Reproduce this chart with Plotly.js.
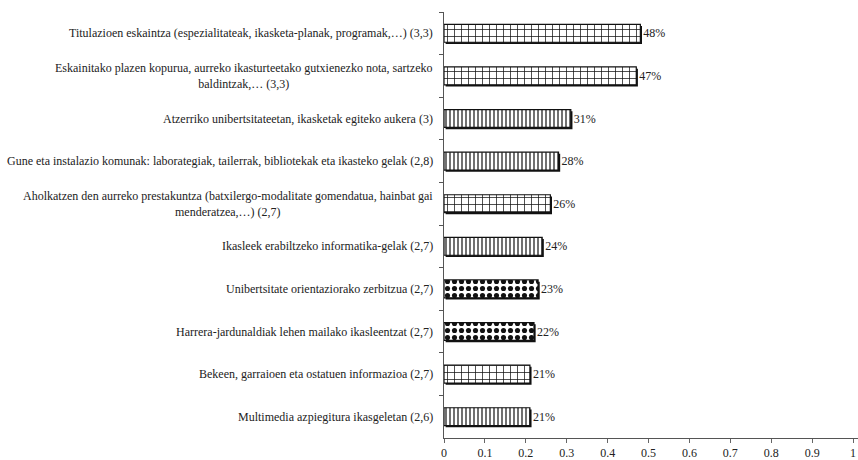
<!DOCTYPE html>
<html><head><meta charset="utf-8">
<script src="https://cdn.plot.ly/plotly-3.0.1.min.js"></script>
<style>body{margin:0;background:#fff}#c{width:858px;height:460px}</style>
</head><body><div id="c"></div>
<script>
const categories = [
  "Titulazioen eskaintza (espezialitateak, ikasketa-planak, programak,…) (3,3)",
  "Eskainitako plazen kopurua, aurreko ikasturteetako gutxienezko nota, sartzeko<br>baldintzak,… (3,3)",
  "Atzerriko unibertsitateetan, ikasketak egiteko aukera (3)",
  "Gune eta instalazio komunak: laborategiak, tailerrak, bibliotekak eta ikasteko gelak (2,8)",
  "Aholkatzen den aurreko prestakuntza (batxilergo-modalitate gomendatua, hainbat gai<br>menderatzea,…) (2,7)",
  "Ikasleek erabiltzeko informatika-gelak (2,7)",
  "Unibertsitate orientaziorako zerbitzua (2,7)",
  "Harrera-jardunaldiak lehen mailako ikasleentzat (2,7)",
  "Bekeen, garraioen eta ostatuen informazioa (2,7)",
  "Multimedia azpiegitura ikasgeletan (2,6)"
];
const values = [0.48, 0.47, 0.31, 0.28, 0.26, 0.24, 0.23, 0.22, 0.21, 0.21];
const xTicks = [0, 0.1, 0.2, 0.3, 0.4, 0.5, 0.6, 0.7, 0.8, 0.9, 1];
const xTickLabels = ["0", "0.1", "0.2", "0.3", "0.4", "0.5", "0.6", "0.7", "0.8", "0.9", "1"];
const patterns = ["+", "+", "|", "|", "+", "|", ".", ".", "+", "|"];

const font = "Liberation Serif";
const ids = categories.map((c, i) => "c" + i);

const shadow = {
  type: "bar", orientation: "h", y: ids, x: values, base: 0.004,
  width: 0.42, offset: -0.17,
  marker: {color: "#111", line: {width: 0}},
  hoverinfo: "skip", showlegend: false
};
const main = {
  type: "bar", orientation: "h", y: ids, x: values,
  width: 0.42, offset: -0.21,
  marker: {
    color: "#fff",
    line: {color: "#111", width: 1.2},
    pattern: {
      shape: patterns,
      fgcolor: "#111", bgcolor: "#fff",
      size: patterns.map(p => p === "+" ? 7 : (p === "|" ? 4 : 7)),
      solidity: patterns.map(p => p === "+" ? 0.2 : (p === "|" ? 0.3 : 0.42))
    }
  },
  text: values.map(v => Math.round(v * 100) + "%"),
  textposition: "outside", cliponaxis: false,
  textfont: {family: font, size: 12, color: "#222"},
  showlegend: false
};

const annotations = ids.map((id, i) => ({
  xref: "paper", yref: "y", x: 0, y: id, xanchor: "right", yanchor: "middle",
  xshift: -9, text: categories[i], showarrow: false, align: "center",
  font: {family: font, size: 12, color: "#222"}
}));

const layout = {
  width: 858, height: 460,
  margin: {l: 444, r: 0, t: 12, b: 22},
  paper_bgcolor: "#fff", plot_bgcolor: "#fff",
  barmode: "overlay",
  font: {family: font},
  xaxis: {
    range: [0, 1.012], tickvals: xTicks, ticktext: xTickLabels,
    ticks: "outside", ticklen: 4, tickcolor: "#666",
    ticklabeloverflow: "allow",
    showline: true, linecolor: "#555", linewidth: 1,
    showgrid: false, zeroline: false,
    tickfont: {family: font, size: 12, color: "#222"}
  },
  yaxis: {
    type: "category", autorange: "reversed",
    showticklabels: false, ticks: "outside", ticklen: 4, tickcolor: "#555",
    tickson: "boundaries",
    showline: true, linecolor: "#555", linewidth: 1,
    showgrid: false, zeroline: false
  },
  annotations: annotations,
  bargap: 0.58
};
Plotly.newPlot("c", [shadow, main], layout, {displayModeBar: false, staticPlot: true});
</script>
</body></html>
